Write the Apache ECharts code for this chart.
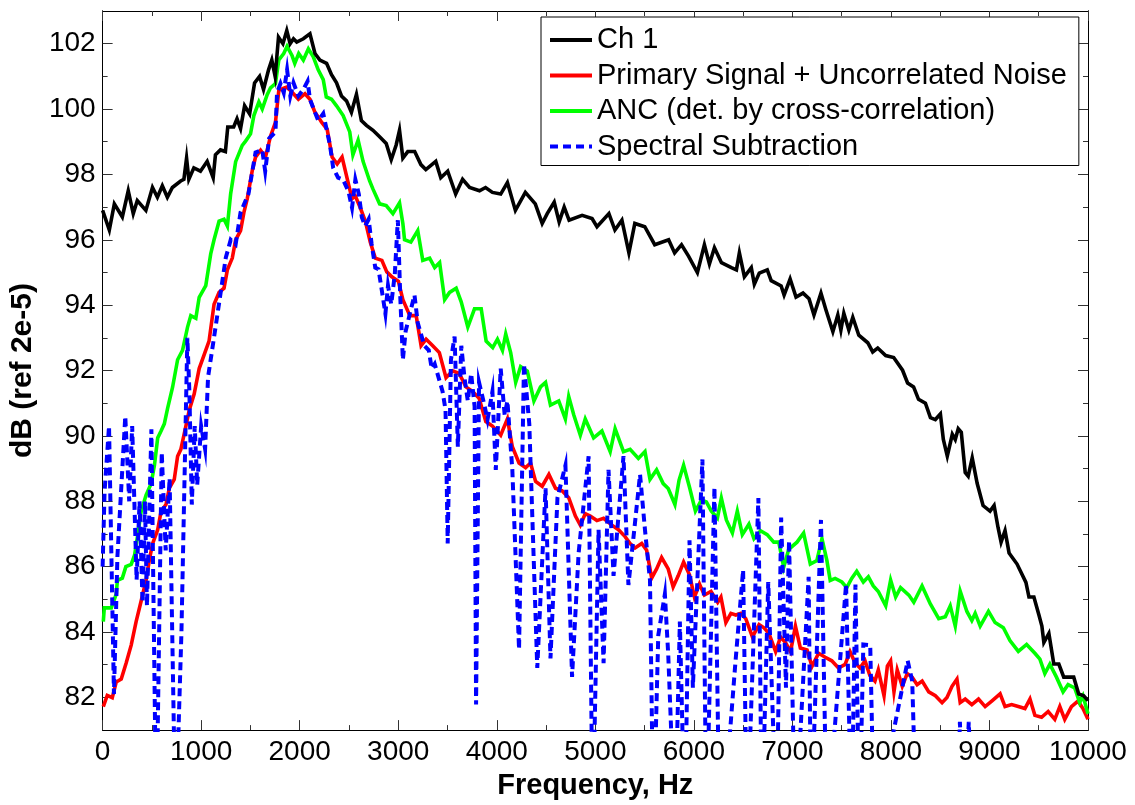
<!DOCTYPE html>
<html>
<head>
<meta charset="utf-8">
<script src="https://cdn.jsdelivr.net/npm/echarts@6/dist/echarts.min.js"></script>
<style>
html,body{margin:0;padding:0;background:#fff;}
#chart{width:1135px;height:805px;}
</style>
</head>
<body>
<div id="chart"></div>
<script>
// ---- data (frequency in Hz, level in dB) ----
const seriesNames = ['Ch 1', 'Primary Signal + Uncorrelated Noise', 'ANC (det. by cross-correlation)', 'Spectral Subtraction'];
const xTicks = [0,1000,2000,3000,4000,5000,6000,7000,8000,9000,10000];
const yTickLabels = [82,84,86,88,90,92,94,96,98,100,102];
const yMinorTicks = [83,85,87,89,91,93,95,97,99,101];

const ch1F = [0,68,119,200,260,311,352,439,506,556,606,657,708,792,825,852,875,926,993,1061,1122,1145,1196,1246,1270,1330,1364,1400,1441,1492,1542,1593,1633,1684,1717,1751,1785,1830,1869,1903,1937,1970,2037,2104,2155,2205,2273,2323,2374,2424,2475,2525,2576,2626,2677,2744,2811,2878,2929,2979,3013,3047,3097,3167,3230,3280,3381,3432,3502,3583,3653,3724,3825,3886,3956,4040,4108,4189,4290,4391,4461,4512,4583,4633,4684,4734,4866,4967,5017,5138,5199,5270,5341,5401,5502,5603,5744,5805,5875,5946,6036,6107,6158,6209,6280,6381,6432,6462,6513,6583,6614,6664,6745,6785,6886,6916,6977,7037,7108,7169,7219,7290,7340,7411,7461,7492,7522,7573,7613,7674,7765,7815,7866,7947,8028,8118,8169,8230,8280,8350,8401,8451,8502,8532,8572,8623,8653,8683,8714,8754,8784,8825,8875,8935,9006,9047,9087,9118,9158,9199,9280,9370,9401,9451,9502,9532,9552,9603,9653,9704,9754,9855,9905,9956,10000];
const ch1Db = [96.9,96.3,97.1,96.7,97.5,96.8,97.2,96.9,97.6,97.3,97.65,97.3,97.6,97.8,97.85,98.5,97.85,98.2,98.1,98.4,97.9,98.6,98.75,98.7,99.45,99.45,99.7,99.4,100.1,99.85,100.8,101.0,100.6,101.2,101.5,101.0,102.2,102.0,102.4,102.0,102.15,102.05,102.15,102.3,101.7,101.5,101.4,101.05,100.8,100.4,100.25,99.9,100.45,99.65,99.5,99.35,99.15,98.95,98.45,98.9,99.35,98.5,98.7,98.7,98.3,98.15,98.4,97.9,98.1,97.4,97.85,97.6,97.5,97.6,97.45,97.4,97.75,96.9,97.45,97.1,96.5,96.8,97.15,96.55,97.0,96.6,96.75,96.65,96.4,96.8,96.3,96.6,95.6,96.5,96.4,95.85,96.0,95.6,95.85,95.5,95.0,95.85,95.26,95.76,95.3,95.15,95.08,95.6,94.87,95.15,94.64,94.98,95.08,94.75,94.59,94.31,94.8,94.25,94.37,94.2,93.7,94.37,93.86,93.19,93.7,93.24,93.75,93.24,93.63,93.08,92.85,92.57,92.69,92.46,92.4,92.01,91.62,91.5,91.12,91.0,90.56,90.5,90.67,89.89,89.38,90.05,89.89,90.22,90.11,88.88,88.77,89.33,88.55,87.87,87.7,87.87,87.2,86.75,87.1,86.42,86.08,85.52,85.07,85.07,84.52,84.18,83.68,83.96,83.02,83.02,82.62,82.62,82.11,82.05,81.9];

const pslF = [7,47,98,138,189,239,290,340,391,441,475,508,559,593,643,677,727,761,794,845,879,929,980,1030,1080,1131,1182,1232,1266,1316,1350,1400,1434,1468,1518,1552,1603,1653,1704,1754,1788,1838,1869,1905,1937,1987,2054,2104,2155,2195,2222,2279,2329,2380,2430,2497,2531,2565,2615,2666,2716,2767,2834,2884,2935,3002,3047,3118,3182,3232,3283,3350,3417,3485,3552,3619,3687,3754,3821,3889,3956,4040,4108,4158,4226,4293,4343,4394,4461,4529,4596,4663,4730,4798,4848,4898,4949,5016,5084,5168,5235,5302,5353,5403,5471,5521,5572,5622,5673,5740,5790,5841,5896,5956,6006,6057,6107,6174,6242,6275,6325,6376,6426,6477,6527,6594,6662,6712,6762,6830,6880,6930,6981,7031,7081,7149,7199,7266,7333,7400,7468,7535,7585,7636,7686,7737,7787,7838,7872,7930,7964,7997,8031,8064,8115,8165,8216,8266,8317,8384,8451,8519,8569,8620,8670,8703,8754,8821,8889,8956,9023,9108,9158,9225,9293,9360,9411,9461,9529,9596,9663,9714,9764,9832,9899,9949,10000];
const pslDb = [81.72,82.06,81.99,82.47,82.56,83.05,83.6,84.32,84.95,85.59,86.22,86.71,87.13,87.69,87.9,88.4,88.67,89.38,89.59,90.3,90.79,91.28,92.06,92.48,92.9,94.03,94.39,94.52,95.08,95.44,96.0,96.28,96.84,97.26,98.11,98.53,98.74,98.53,99.17,99.59,100.57,100.64,100.67,100.57,100.47,100.3,100.47,100.3,99.9,99.73,99.6,99.38,98.53,98.32,98.53,97.68,97.26,97.34,96.98,96.57,95.93,95.44,95.37,95.02,94.87,94.73,94.17,93.68,93.68,92.76,92.96,92.76,92.55,91.78,91.99,91.91,91.5,91.36,91.15,90.44,90.3,90.02,90.52,89.67,89.17,89.03,89.17,88.61,88.46,88.82,88.4,88.32,88.11,87.55,87.27,87.62,87.55,87.41,87.48,87.27,87.13,86.92,86.71,86.57,86.71,86.5,85.65,85.93,86.28,85.93,85.38,85.72,86.14,85.75,85.07,85.47,85.13,85.24,84.91,85.07,84.29,84.57,84.52,84.57,84.41,83.85,84.23,84.13,83.96,83.4,83.85,83.68,83.4,84.18,83.51,83.45,82.95,83.35,83.23,83.12,82.9,83.01,83.4,83.06,82.9,83.12,82.67,82.5,82.84,82.05,82.96,83.12,82.17,82.84,82.34,82.73,82.62,82.39,82.5,82.17,82.05,81.84,82.0,82.34,82.56,81.84,81.95,81.78,81.95,81.72,81.89,82.11,81.72,81.78,81.72,81.66,81.95,81.45,81.39,81.57,81.33,81.72,81.33,81.72,81.89,81.66,81.33];

const ancF = [7,17,88,138,150,200,236,290,324,357,391,441,492,526,559,593,626,660,710,761,811,862,895,946,980,1047,1097,1131,1182,1232,1266,1299,1350,1417,1451,1501,1535,1586,1620,1670,1704,1754,1788,1838,1872,1923,1950,1990,2037,2088,2138,2188,2239,2270,2323,2374,2441,2508,2540,2593,2643,2710,2744,2811,2878,2946,3013,3047,3064,3128,3198,3249,3319,3370,3420,3471,3521,3588,3639,3706,3774,3842,3892,3959,4007,4058,4091,4141,4192,4242,4310,4377,4444,4495,4545,4629,4696,4730,4781,4848,4898,4983,5067,5151,5201,5286,5353,5437,5504,5555,5622,5689,5740,5808,5850,5896,5956,6016,6077,6127,6178,6239,6279,6330,6391,6441,6492,6559,6610,6677,6744,6811,6862,6912,6963,7047,7114,7182,7249,7300,7350,7384,7434,7502,7552,7602,7653,7720,7771,7821,7872,7947,7997,8048,8098,8182,8232,8316,8400,8485,8552,8602,8653,8703,8771,8821,8855,8906,8990,9057,9141,9208,9293,9377,9461,9512,9562,9613,9680,9747,9798,9865,9916,9949,10000];
const ancDb = [84.32,84.74,84.74,85.16,85.58,85.65,86.0,86.07,86.35,86.98,87.69,88.19,88.54,89.1,89.94,90.15,90.37,90.85,91.49,92.33,92.62,93.33,93.68,93.6,94.24,94.6,95.57,96.0,96.57,96.63,96.42,97.4,98.39,98.89,99.02,99.24,99.8,100.22,100.0,100.44,100.65,100.78,101.5,101.7,101.92,101.63,101.4,101.7,101.5,101.84,101.6,101.2,100.9,100.37,100.3,100.1,99.8,99.3,98.6,99.05,98.4,97.8,97.55,97.1,97.05,96.8,97.13,96.5,96.0,95.93,96.28,95.37,95.44,95.15,95.3,94.17,94.39,94.52,94.1,93.33,93.89,93.89,92.9,92.7,92.96,92.62,93.12,92.55,91.64,92.12,91.98,91.07,91.5,91.64,90.94,91.07,90.52,91.21,90.65,90.02,90.52,89.94,90.15,89.52,90.22,89.52,89.59,89.31,89.52,88.67,88.96,88.54,88.39,87.9,88.65,89.1,88.43,87.7,88.04,87.98,87.7,87.49,88.1,87.43,87.03,87.7,86.98,87.3,86.86,87.1,86.98,86.75,86.75,85.98,86.53,86.75,87.03,86.08,86.19,86.86,86.19,85.58,85.64,85.53,85.36,85.64,85.86,85.53,85.69,85.41,85.24,84.8,85.59,85.07,85.36,85.13,84.91,85.41,84.86,84.41,84.47,84.8,84.18,85.25,84.63,84.35,84.57,84.18,84.63,84.29,84.13,83.74,83.41,83.62,83.35,83.17,82.73,83.02,82.62,82.17,82.39,82.29,81.84,82.05,81.5];

const ssF = [0,20,65,115,150,230,270,300,345,375,405,430,450,495,545,600,640,680,740,800,860,880,905,935,960,1000,1040,1070,1130,1250,1300,1350,1400,1480,1552,1620,1650,1690,1754,1770,1805,1838,1872,1905,1937,1987,2037,2080,2104,2155,2188,2239,2307,2340,2390,2440,2495,2531,2565,2600,2630,2664,2700,2730,2767,2800,2834,2870,2896,2929,2965,2996,3020,3047,3075,3130,3165,3198,3265,3310,3340,3370,3450,3480,3502,3535,3572,3605,3640,3672,3706,3740,3775,3790,3820,3870,3906,3956,3990,4040,4080,4108,4158,4226,4276,4330,4411,4495,4545,4616,4697,4764,4831,4932,4973,5033,5084,5134,5185,5235,5286,5336,5386,5454,5504,5555,5589,5639,5706,5740,5808,5858,5908,5956,5990,6087,6127,6209,6260,6330,6420,6500,6540,6655,6690,6755,6840,6886,6935,6966,7030,7165,7190,7290,7350,7545,7600,7640,7680,7720,7790,7830,8170,8216,8260,8670,8700,8740,8790,8830,10000];
const ssDb = [86.0,88.3,90.3,82.1,86.3,90.6,88.0,90.3,85.6,88.0,84.9,88.0,84.8,90.2,78,89.5,86.5,88.7,78,84.0,93.0,91.4,87.9,90.3,88.5,90.3,89.6,91.8,93.0,95.45,96.0,95.86,96.84,97.4,98.67,98.75,98.1,99.1,99.3,100.5,100.78,100.5,101.2,100.4,100.8,100.4,100.6,100.85,100.3,99.9,99.65,99.86,98.9,98.2,97.9,97.84,97.48,96.98,97.84,97.4,96.7,96.42,96.63,95.87,95.15,95.1,94.44,93.74,94.6,94.03,94.94,96.6,94.31,92.33,93.2,93.89,94.31,93.46,92.76,92.62,92.06,92.2,91.36,90.8,86.71,92.33,93.04,89.67,92.76,91.79,91.07,91.91,90.9,81.78,91.64,91.0,90.5,91.36,88.96,92.06,90.64,91.07,88.96,83.47,92.2,90.37,82.9,88.4,83.19,88.11,89.1,82.63,86.43,89.38,78,87.13,83.05,88.96,85.72,87.55,89.38,85.44,86.86,88.82,87.13,85.58,78,83.9,85.16,83.32,78,84.32,78,86.81,82.3,89.28,78,88.43,78,79.5,83.0,85.9,78,88.1,78,85.53,78,87.5,82.3,86.8,78,85.69,78,87.43,78,85.47,78,85.45,78,83.62,83.6,78,83.12,82.5,78,78,81.25,78,81.25,78,78];

function zip(f, v) { return f.map((x, i) => [x, v[i]]); }

const chart = echarts.init(document.getElementById('chart'), null, {renderer: 'canvas'});
const FONT = '"Liberation Sans", Arial, Helvetica, sans-serif';
const tickColor = '#333';

function yAx(pos, vals, len, labels) {
  return {
    type: 'value', position: pos, min: 81, max: 103, interval: 1,
    axisLine: {show: true, onZero: false, lineStyle: {color: '#000', width: 1}},
    axisTick: {show: true, inside: true, length: len, customValues: vals, lineStyle: {color: tickColor, width: 1}},
    axisLabel: labels ? {show: true, customValues: yTickLabels, fontSize: 28, fontFamily: FONT, color: '#000', margin: 7} : {show: false},
    splitLine: {show: false},
    name: labels ? 'dB (ref 2e-5)' : '',
    nameLocation: 'middle', nameGap: 56, nameRotate: 90,
    nameTextStyle: {fontSize: 30, fontWeight: 'bold', fontFamily: FONT, color: '#000'}
  };
}
function xAx(pos, labels) {
  return {
    type: 'value', position: pos, min: 0, max: 10000, interval: 1000,
    axisLine: {show: true, onZero: false, lineStyle: {color: '#000', width: 1}},
    axisTick: {show: true, inside: true, length: 10, lineStyle: {color: tickColor, width: 1}},
    minorTick: {show: true, splitNumber: 2, length: 5, lineStyle: {color: tickColor, width: 1}},
    axisLabel: labels ? {show: true, fontSize: 28, fontFamily: FONT, color: '#000', margin: 8,
      formatter: v => String(v)} : {show: false},
    splitLine: {show: false},
    name: labels ? 'Frequency, Hz' : '',
    nameLocation: 'middle', nameGap: 31,
    nameTextStyle: {fontSize: 29, fontWeight: 'bold', fontFamily: FONT, color: '#000'}
  };
}

const colors = ['#000000', '#ff0000', '#00ff00', '#0000ff'];
const dataSets = [zip(ch1F, ch1Db), zip(pslF, pslDb), zip(ancF, ancDb), zip(ssF, ssDb)];
const series = seriesNames.map((n, i) => ({
  name: n, type: 'line', data: dataSets[i], showSymbol: false, symbol: 'none',
  xAxisIndex: 0, yAxisIndex: 0, clip: true, animation: false, z: i === 3 ? 3 : (i === 0 ? 4 : 2),
  lineStyle: {color: colors[i], width: i === 3 ? 4 : 3.6, type: i === 3 ? [8, 5] : 'solid', cap: 'butt', join: 'miter'},
  itemStyle: {color: colors[i]}
}));

const solidIcon = 'path://M0,0h42v4h-42z';
const dashIcon = 'path://M0,0h8v4h-8z M13,0h8v4h-8z M26,0h8v4h-8z M39,0h3v4h-3z';

chart.setOption({
  animation: false,
  backgroundColor: '#ffffff',
  grid: {left: 98, right: 47, top: 11, bottom: 66, containLabel: false},
  xAxis: [xAx('bottom', true), xAx('top', false)],
  yAxis: [
    yAx('left', yTickLabels, 10, true),
    yAx('left', yMinorTicks, 5, false),
    yAx('right', yTickLabels, 10, false),
    yAx('right', yMinorTicks, 5, false)
  ],
  legend: {
    show: true, orient: 'vertical', left: 541, top: 17,
    data: seriesNames.map((n, i) => ({name: n, icon: i === 3 ? dashIcon : solidIcon,
      itemStyle: {color: colors[i], borderWidth: 0}})),
    backgroundColor: '#ffffff', borderColor: '#000', borderWidth: 1,
    padding: [8, 12, 4, 9], itemGap: 5.5, itemWidth: 42, itemHeight: 4,
    textStyle: {fontSize: 29, fontFamily: FONT, color: '#000', lineHeight: 30}
  },
  series: series
});
</script>
</body>
</html>
